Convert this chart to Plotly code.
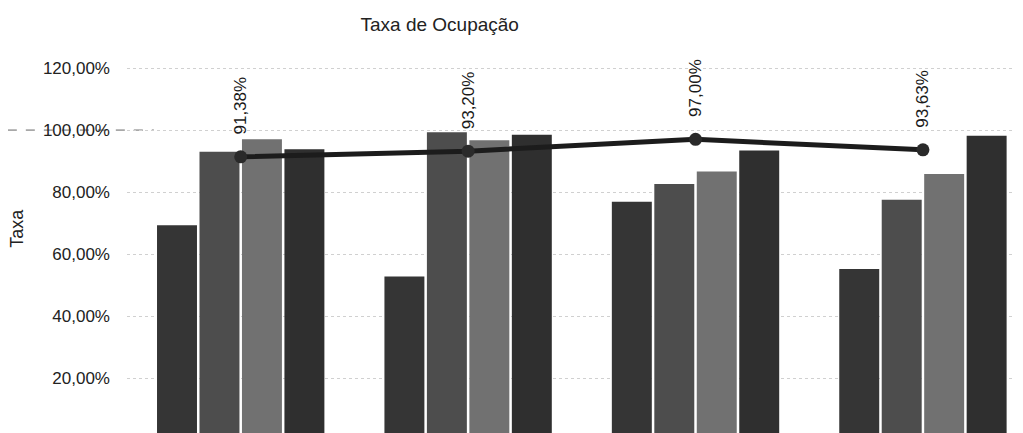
import plotly.graph_objects as go

# occupancy per period, four series per group (fractions)
periodos = ["P1", "P2", "P3", "P4"]
serie_a = [0.693, 0.528, 0.769, 0.552]
serie_b = [0.930, 0.993, 0.826, 0.775]
serie_c = [0.970, 0.967, 0.866, 0.858]
serie_d = [0.938, 0.985, 0.934, 0.982]
media = [0.9138, 0.9320, 0.9700, 0.9363]

cores = ["#353535", "#4d4d4d", "#717171", "#2f2f2f"]
fonte = "Liberation Sans, Arial, sans-serif"

fig = go.Figure()
for nome, vals, cor in zip(["A", "B", "C", "D"], [serie_a, serie_b, serie_c, serie_d], cores):
    fig.add_trace(go.Bar(x=periodos, y=vals, name=nome, marker_color=cor,
                         marker_line_width=0))

fig.add_trace(go.Scatter(x=periodos, y=media, mode="lines+markers", name="Média",
                         line=dict(color="#1c1c1c", width=5),
                         marker=dict(size=13, color="#2a2a2a")))

# rotated value labels above the line points
for p, v in zip(periodos, media):
    fig.add_annotation(x=p, y=v, text=f"{v*100:.2f}%".replace(".", ","),
                       textangle=-90, showarrow=False, yanchor="bottom",
                       yshift=20, font=dict(size=17, color="#1a1a1a", family=fonte))

# axis title placed by hand (plot runs past the bottom edge)
fig.add_annotation(xref="paper", yref="paper", x=-0.1228, y=0.55, text="Taxa",
                   textangle=-90, showarrow=False, xanchor="center", yanchor="middle",
                   font=dict(size=18, color="#222", family=fonte))

# darker dashed stub of the 100% line crossing the tick label
fig.add_shape(type="line", xref="paper", yref="y", x0=-0.133, x1=0.03, y0=1.0, y1=1.0,
              line=dict(color="#666", width=1, dash="dash"), layer="below")

fig.update_layout(
    width=1023, height=433,
    margin=dict(l=119, r=8, t=52, b=8),
    paper_bgcolor="white", plot_bgcolor="white",
    barmode="group", bargap=0.253, bargroupgap=0.059,
    showlegend=False,
    separators=",.",
    font=dict(family=fonte, color="#222"),
    title=dict(text="Taxa de Ocupação", x=0.349, xref="paper", xanchor="center",
               y=0.963, yref="container", yanchor="middle",
               font=dict(size=19, color="#222", family=fonte)),
    xaxis=dict(range=[-0.5, 3.44], showticklabels=False, showgrid=False,
               zeroline=False, showline=False, ticks=""),
    yaxis=dict(range=[0.023, 1.226], tickvals=[0.2, 0.4, 0.6, 0.8, 1.0, 1.2],
               tickformat=".2%", tickfont=dict(size=17, color="#222"),
               showgrid=True, gridcolor="#d0d0d0", griddash="dot", gridwidth=1,
               zeroline=False, showline=False, ticks="", ticklabelstandoff=16,
               automargin=False),
)

fig.write_html("out.html")
